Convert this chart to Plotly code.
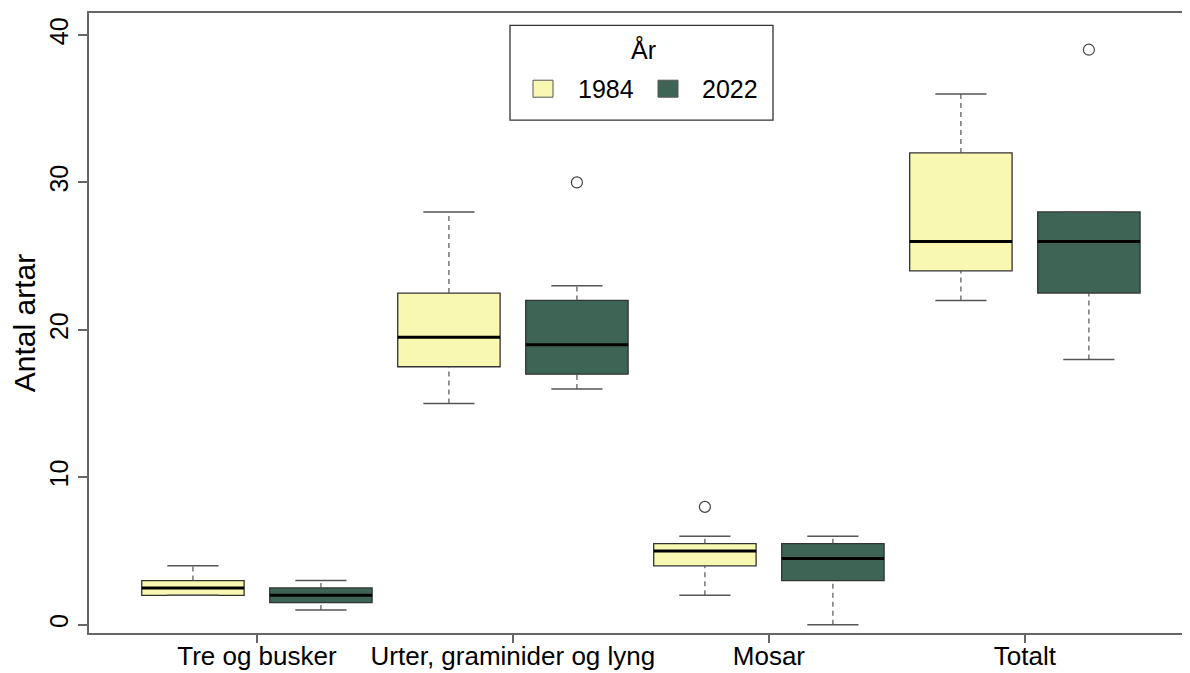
import plotly.graph_objects as go

categories = ["Tre og busker", "Urter, graminider og lyng", "Mosar", "Totalt"]
years = ["1984", "2022"]

q1_1984 = [2.0, 17.5, 4.0, 24.0]
med_1984 = [2.5, 19.5, 5.0, 26.0]
q3_1984 = [3.0, 22.5, 5.5, 32.0]
lo_1984 = [2.0, 15.0, 2.0, 22.0]
hi_1984 = [4.0, 28.0, 6.0, 36.0]
out_1984 = [[], [], [8.0], []]

q1_2022 = [1.5, 17.0, 3.0, 22.5]
med_2022 = [2.0, 19.0, 4.5, 26.0]
q3_2022 = [2.5, 22.0, 5.5, 28.0]
lo_2022 = [1.0, 16.0, 0.0, 18.0]
hi_2022 = [3.0, 23.0, 6.0, 28.0]
out_2022 = [[], [30.0], [], [39.0]]

y_ticks = [0, 10, 20, 30, 40]

stats = {
    "1984": dict(q1=q1_1984, med=med_1984, q3=q3_1984, lo=lo_1984, hi=hi_1984, out=out_1984),
    "2022": dict(q1=q1_2022, med=med_2022, q3=q3_2022, lo=lo_2022, hi=hi_2022, out=out_2022),
}
fills = {"1984": "#F8F8B2", "2022": "#3E6455"}
offsets = {"1984": -0.25, "2022": 0.25}
BOX_W = 0.4
CAP_W = 0.2
FONT = "Liberation Sans, Arial, sans-serif"
WHISK = "#555555"

# page offset of the figure inside the browser window (default body margin)
OFF = 8
W, H = 1190 - OFF, 673 - OFF

fig = go.Figure()

for yr in years:
    s = stats[yr]
    xs = [i + offsets[yr] for i in range(len(categories))]
    for i, x in enumerate(xs):
        fig.add_trace(go.Box(
            x=[x], q1=[s["q1"][i]], median=[s["med"][i]], q3=[s["q3"][i]],
            lowerfence=[s["q1"][i]], upperfence=[s["q3"][i]],
            width=BOX_W, whiskerwidth=0, fillcolor=fills[yr],
            line=dict(color="#333333", width=1.3), boxpoints=False,
            showlegend=False, hoverinfo="skip",
        ))

for yr in years:
    s = stats[yr]
    xs = [i + offsets[yr] for i in range(len(categories))]
    wx, wy, cx, cy, mx, my, ox, oy = [], [], [], [], [], [], [], []
    for i, x in enumerate(xs):
        wx += [x, x, None, x, x, None]
        wy += [s["q3"][i], s["hi"][i], None, s["lo"][i], s["q1"][i], None]
        cx += [x - CAP_W / 2, x + CAP_W / 2, None, x - CAP_W / 2, x + CAP_W / 2, None]
        cy += [s["hi"][i], s["hi"][i], None, s["lo"][i], s["lo"][i], None]
        mx += [x - BOX_W / 2, x + BOX_W / 2, None]
        my += [s["med"][i], s["med"][i], None]
        for o in s["out"][i]:
            ox.append(x)
            oy.append(o)
    fig.add_trace(go.Scatter(x=wx, y=wy, mode="lines", line=dict(color=WHISK, width=1.2, dash="5px,4px"),
                             showlegend=False, hoverinfo="skip"))
    fig.add_trace(go.Scatter(x=cx, y=cy, mode="lines", line=dict(color=WHISK, width=1.5),
                             showlegend=False, hoverinfo="skip"))
    fig.add_trace(go.Scatter(x=mx, y=my, mode="lines", line=dict(color="black", width=3),
                             showlegend=False, hoverinfo="skip"))
    if ox:
        fig.add_trace(go.Scatter(x=ox, y=oy, mode="markers",
                                 marker=dict(symbol="circle-open", size=11, color="#444444", line=dict(width=1.2)),
                                 showlegend=False, hoverinfo="skip"))

# Legend drawn in paper coordinates (box, swatches, labels); coords are window pixels
L, R, T, B = 89.0, 1190.0, 12.7, 633.5
def px(x):
    return (x - L) / (R - L)
def py(y):
    return (B - y) / (B - T)

shapes = [
    dict(type="rect", xref="paper", yref="paper", x0=px(510), x1=px(773), y0=py(120), y1=py(25),
         line=dict(color="#333333", width=1.3), fillcolor="white", layer="above"),
]
legend_sw = {"1984": (533, 553), "2022": (658, 678)}
legend_tx = {"1984": 605.5, "2022": 730}
annotations = [
    dict(text="År", xref="paper", yref="paper", x=px(643), y=py(49), xanchor="center", yanchor="middle",
         showarrow=False, font=dict(size=25, family=FONT, color="black")),
]
for yr in years:
    a, b = legend_sw[yr]
    shapes.append(dict(type="rect", xref="paper", yref="paper", x0=px(a), x1=px(b), y0=py(97), y1=py(80),
                       line=dict(color="#555555", width=1), fillcolor=fills[yr], layer="above"))
    annotations.append(dict(text=yr, xref="paper", yref="paper", x=px(legend_tx[yr]), y=py(88.5),
                            xanchor="center", yanchor="middle", showarrow=False,
                            font=dict(size=25, family=FONT, color="black")))

fig.update_layout(
    width=W, height=H,
    margin=dict(l=L - OFF, r=0, t=T - OFF, b=673 - B, pad=0),
    paper_bgcolor="white", plot_bgcolor="white",
    font=dict(family=FONT, size=25, color="black"),
    showlegend=False,
    shapes=shapes, annotations=annotations,
    xaxis=dict(
        range=[-0.656, 3.645], tickmode="array", tickvals=list(range(len(categories))),
        ticktext=categories, showgrid=False, zeroline=False, automargin=False,
        showline=True, linecolor="#666666", linewidth=1.5, mirror=True,
        ticks="outside", ticklen=8, tickcolor="#666666", tickwidth=1.5,
        tickfont=dict(size=26), ticklabelstandoff=-9,
    ),
    yaxis=dict(
        range=[-0.555, 41.49], tickmode="array", tickvals=y_ticks,
        showgrid=False, zeroline=False, automargin=False,
        showline=True, linecolor="#666666", linewidth=1.5, mirror=False,
        ticks="outside", ticklen=9, tickcolor="#666666", tickwidth=1.5,
        tickangle=-90, tickfont=dict(size=25),
        title=dict(text="Antal artar", font=dict(size=30), standoff=3),
    ),
)

fig.write_html("out.html")
